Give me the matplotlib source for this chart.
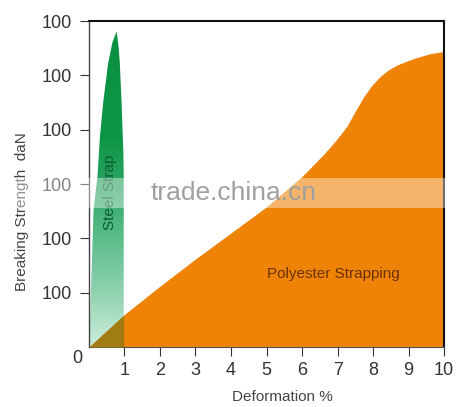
import matplotlib
matplotlib.use("Agg")
import matplotlib.pyplot as plt
import numpy as np
from matplotlib.colors import LinearSegmentedColormap
from matplotlib.patches import Polygon, Rectangle

plt.rcParams['font.family'] = ['Liberation Sans', 'DejaVu Sans']

# polyester strapping curve (deformation %, strength units)
poly_x = [0, 1, 2, 3, 4, 5, 5.5, 6, 6.6, 6.95, 7.26, 7.49, 7.73, 7.96, 8.2, 8.43,
          8.67, 9.14, 9.61, 10]
poly_y = [0, 0.6, 1.12, 1.62, 2.1, 2.58, 2.86, 3.14, 3.54, 3.8, 4.06, 4.33, 4.6, 4.81,
          4.98, 5.1, 5.19, 5.31, 5.40, 5.44]

# steel strap outline: up the left edge, then down the right edge
steel_x = [0.0, 0.05, 0.13, 0.24, 0.31, 0.40, 0.54, 0.66, 0.78, 0.84, 0.87, 0.92, 0.97, 0.98, 0.98]
steel_y = [0, 0.87, 2.52, 3.14, 3.87, 4.49, 5.22, 5.6, 5.81, 5.5, 5.22, 4.49, 3.57, 3.14, 0]

x_ticks = [1, 2, 3, 4, 5, 6, 7, 8, 9, 10]
y_ticks = [1, 2, 3, 4, 5, 6]
y_labels = ["100", "100", "100", "100", "100", "100"]

orange = '#ee8307'
olive = '#a17c12'

fig = plt.figure(figsize=(4.68, 4.07), dpi=100)
ax = fig.add_axes([0.190, 0.1474, 0.759, 0.8010])
ax.set_xlim(0, 10)
ax.set_ylim(0, 6)

# steel strap: vertical green gradient clipped to its outline
green = LinearSegmentedColormap.from_list('steel', [
    (0.0, '#cdeedd'), (1 / 6, '#90d2b0'), (2 / 6, '#5bbd8a'),
    (3 / 6, '#2aa462'), (3.8 / 6, '#0e9647'), (1.0, '#0a8f40')])
grad = np.linspace(0, 1, 256).reshape(-1, 1)
im = ax.imshow(grad, cmap=green, origin='lower', extent=[0, 1, 0, 6],
               aspect='auto', zorder=1)
outline = Polygon(np.column_stack([steel_x, steel_y]), closed=True,
                  transform=ax.transData, facecolor='none', edgecolor='none')
ax.add_patch(outline)
im.set_clip_path(outline)

# polyester area
ax.fill_between(poly_x, 0, poly_y, color=orange, lw=0, zorder=2)

# where steel and polyester overlap
steel_right = steel_x[-1]
ox = np.array([x for x in poly_x if x < steel_right] + [steel_right])
oy = np.interp(ox, poly_x, poly_y)
ax.fill_between(ox, 0, oy, color=olive, lw=0, zorder=3)

ax.text(0.6, 2.85, "Steel Strap", rotation=90, ha='center', va='center',
        fontsize=11, color='#0b5a30', zorder=4)
ax.text(6.87, 1.34, "Polyester Strapping", ha='center', va='center',
        fontsize=11, color='#6b3206', zorder=4)

ax.set_xticks(x_ticks)
ax.set_xticklabels([str(t) for t in x_ticks])
ax.set_yticks(y_ticks)
ax.set_yticklabels(y_labels)
ax.tick_params(axis='both', labelsize=13, colors='#333333', length=6.5, width=0.8)
ax.tick_params(axis='x', pad=4)
ax.tick_params(axis='y', pad=6)
ax.annotate("0", xy=(0, 0), xytext=(-12, -11), textcoords='offset pixels',
            ha='center', va='center', fontsize=13, color='#333333',
            annotation_clip=False)

ax.set_xlabel("Deformation %", fontsize=11, color='#444444')
ax.xaxis.set_label_coords(0.546, -0.133)
ax.set_ylabel("Breaking Strength  daN", fontsize=11, color='#444444')
ax.yaxis.set_label_coords(-0.169, 0.414)

for side in ['top', 'right']:
    ax.spines[side].set_color('#111111')
    ax.spines[side].set_linewidth(1.5)
ax.spines['left'].set_color('#444444')
ax.spines['left'].set_linewidth(1.0)
ax.spines['bottom'].set_color('#555555')
ax.spines['bottom'].set_linewidth(0.8)

# watermark band
fig.patches.append(Rectangle((0.032, 0.489), 0.923, 0.074, transform=fig.transFigure,
                             facecolor='white', alpha=0.4, edgecolor='none', zorder=10))
fig.text(0.5, 0.526, "trade.china.cn", ha='center', va='center', fontsize=19,
         color='#a0a0a0', zorder=11)

fig.savefig("out.png", dpi=100)
